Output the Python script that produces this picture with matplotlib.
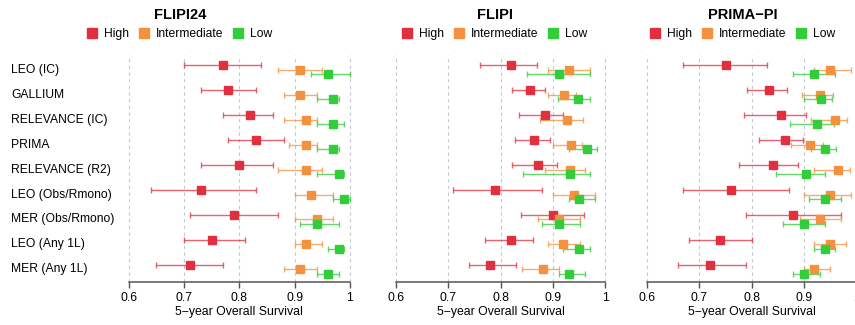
import numpy as np
import matplotlib
matplotlib.use("Agg")
import matplotlib.pyplot as plt
from matplotlib.lines import Line2D
from matplotlib import transforms

plt.rcParams["font.family"] = ["Liberation Sans", "DejaVu Sans"]

# studies (top to bottom)
studies = ["LEO (IC)", "GALLIUM", "RELEVANCE (IC)", "PRIMA", "RELEVANCE (R2)",
           "LEO (Obs/Rmono)", "MER (Obs/Rmono)", "LEO (Any 1L)", "MER (Any 1L)"]
groups = ["High", "Intermediate", "Low"]
panel_titles = ["FLIPI24", "FLIPI", "PRIMA\u2212PI"]

# (estimate, lower, upper) per study
flipi24_high = [(0.77, 0.70, 0.84), (0.78, 0.73, 0.83), (0.82, 0.77, 0.86), (0.83, 0.78, 0.88),
                (0.80, 0.73, 0.86), (0.73, 0.64, 0.83), (0.79, 0.71, 0.87), (0.75, 0.70, 0.81),
                (0.71, 0.65, 0.77)]
flipi24_int = [(0.91, 0.87, 0.95), (0.91, 0.88, 0.94), (0.92, 0.88, 0.94), (0.92, 0.89, 0.94),
               (0.92, 0.87, 0.95), (0.93, 0.90, 0.97), (0.94, 0.90, 0.97), (0.92, 0.90, 0.95),
               (0.91, 0.88, 0.94)]
flipi24_low = [(0.96, 0.93, 1.00), (0.97, 0.94, 0.98), (0.97, 0.94, 0.99), (0.97, 0.94, 0.98),
               (0.98, 0.94, 0.99), (0.99, 0.97, 1.00), (0.94, 0.91, 0.98), (0.98, 0.96, 0.99),
               (0.96, 0.94, 0.98)]

flipi_high = [(0.82, 0.76, 0.87), (0.857, 0.821, 0.885), (0.884, 0.835, 0.919), (0.864, 0.827, 0.894),
              (0.871, 0.821, 0.908), (0.79, 0.71, 0.88), (0.90, 0.84, 0.96), (0.82, 0.77, 0.862),
              (0.78, 0.74, 0.83)]
flipi_int = [(0.931, 0.89, 0.97), (0.922, 0.89, 0.944), (0.927, 0.876, 0.957), (0.934, 0.901, 0.955),
             (0.933, 0.885, 0.962), (0.94, 0.90, 0.981), (0.911, 0.871, 0.951), (0.92, 0.89, 0.951),
             (0.881, 0.841, 0.911)]
flipi_low = [(0.911, 0.85, 0.97), (0.947, 0.91, 0.97), (np.nan, np.nan, np.nan), (0.966, 0.931, 0.985),
             (0.932, 0.842, 0.971), (0.95, 0.931, 0.981), (0.911, 0.88, 0.951), (0.95, 0.92, 0.97),
             (0.931, 0.911, 0.961)]

primapi_high = [(0.751, 0.67, 0.83), (0.833, 0.791, 0.868), (0.856, 0.785, 0.904), (0.863, 0.814, 0.899),
                (0.841, 0.776, 0.889), (0.76, 0.67, 0.871), (0.88, 0.789, 0.97), (0.74, 0.68, 0.80),
                (0.72, 0.66, 0.79)]
primapi_int = [(0.95, 0.919, 0.989), (0.93, 0.896, 0.955), (0.96, 0.914, 0.982), (0.911, 0.876, 0.936),
               (0.966, 0.919, 0.987), (0.949, 0.90, 0.99), (0.93, 0.892, 0.97), (0.949, 0.919, 0.98),
               (0.919, 0.90, 0.949)]
primapi_low = [(0.919, 0.88, 0.96), (0.932, 0.90, 0.953), (0.925, 0.873, 0.957), (0.94, 0.913, 0.961),
               (0.904, 0.846, 0.941), (0.94, 0.909, 0.97), (0.90, 0.86, 0.94), (0.94, 0.919, 0.96),
               (0.90, 0.88, 0.93)]

panels = [(flipi24_high, flipi24_int, flipi24_low),
          (flipi_high, flipi_int, flipi_low),
          (primapi_high, primapi_int, primapi_low)]

colors = ["#E0303F", "#F3913F", "#33CC3A"]
offsets = [-0.18, 0.0, 0.18]
xticks = [0.6, 0.7, 0.8, 0.9, 1.0]

W, H = 855, 325
fig = plt.figure(figsize=(W / 100, H / 100), dpi=100)

# axes positions in pixels: left, width ; title/legend centre
ax_left = [119.9, 387.3, 638.3]
ax_width = [238.9, 226.4, 226.4]
head_x = [180, 495, 743]
bottom_px = 281.7
top_px = 55.0

ypos = np.arange(len(studies), 0, -1)

for p, data in enumerate(panels):
    ax = fig.add_axes([ax_left[p] / W, (H - bottom_px) / H, ax_width[p] / W, (bottom_px - top_px) / H])
    ax.set_xlim(0.584, 1.016)
    ax.set_ylim(0.5, 9.6)
    for xt in xticks:
        ax.axvline(xt, color="#C4C8D4", lw=0.8, ls=(0, (3, 3)), zorder=0)
    for g, series in enumerate(data):
        arr = np.array(series, dtype=float)
        est, lo, hi = arr[:, 0], arr[:, 1], arr[:, 2]
        yy = ypos + offsets[g] * -1
        ax.errorbar(est, yy, xerr=[est - lo, hi - est], fmt="none", ecolor=colors[g],
                    elinewidth=1.0, capsize=2.2, capthick=1.0, alpha=0.75, zorder=2)
        ax.plot(est, yy, "s", color=colors[g], markersize=5.8, zorder=3)
    for s in ["top", "right", "left"]:
        ax.spines[s].set_visible(False)
    ax.spines["bottom"].set_bounds(0.6, 1.0)
    ax.spines["bottom"].set_color("#555555")
    ax.spines["bottom"].set_linewidth(1.1)
    ax.set_yticks([])
    ax.set_xticks(xticks)
    ax.set_xticklabels(["0.6", "0.7", "0.8", "0.9", "1"], fontsize=8.8)
    ax.tick_params(axis="x", length=4.5, width=1.0, color="#555555", pad=3)
    ax.set_xlabel("5\u2212year Overall Survival", fontsize=8.8, labelpad=1)

    fig.text(head_x[p] / W, 1 - 15 / H, panel_titles[p], ha="center", va="center",
             fontsize=10.5, fontweight="bold")
    handles = [Line2D([], [], marker="s", ls="none", color=c, markersize=6.5) for c in colors]
    fig.legend(handles, groups, loc="center", bbox_to_anchor=(head_x[p] / W, 1 - 34 / H),
               ncol=3, frameon=False, fontsize=8.7, handlelength=0.7, handletextpad=0.6,
               columnspacing=0.9, borderpad=0)

    if p == 0:
        tr = transforms.blended_transform_factory(fig.transFigure, ax.transData)
        for name, y in zip(studies, ypos):
            ax.text(11 / W, y, name, transform=tr, ha="left", va="center", fontsize=8.7)

fig.savefig("out.png", dpi=100)
